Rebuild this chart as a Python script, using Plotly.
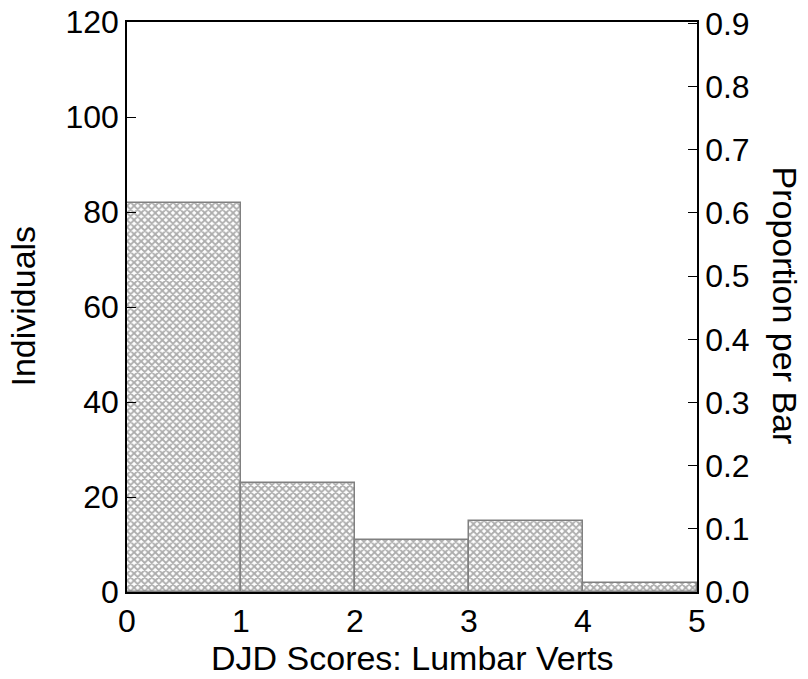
import plotly.graph_objects as go

bin_centers = [0.5, 1.5, 2.5, 3.5, 4.5]
counts = [82, 23, 11, 15, 2]
left_ticks = [0, 20, 40, 60, 80, 100, 120]
right_ticks = [0.0, 0.1, 0.2, 0.3, 0.4, 0.5, 0.6, 0.7, 0.8, 0.9]
x_ticks = [0, 1, 2, 3, 4, 5]

total = sum(counts)
FONT = "Liberation Sans, Arial, sans-serif"
FS = 32
TS = 34

fig = go.Figure()
fig.add_trace(go.Bar(
    x=bin_centers, y=counts, width=1,
    marker=dict(color="white",
                line=dict(color="#808080", width=1.5),
                pattern=dict(shape="x", fgcolor="#5a5a5a", bgcolor="white",
                             size=5, solidity=0.6)),
    showlegend=False, hoverinfo="skip",
))
fig.add_trace(go.Scatter(x=[0, 5], y=[0, 0], yaxis="y2", mode="lines",
                         line=dict(width=0), showlegend=False, hoverinfo="skip"))

fig.update_layout(
    width=800, height=671,
    margin=dict(l=119, r=111, t=14, b=87, autoexpand=False),
    paper_bgcolor="white", plot_bgcolor="white",
    font=dict(family=FONT, size=FS, color="black"),
    bargap=0,
    xaxis=dict(range=[0, 5], tickvals=x_ticks, ticks="", showgrid=False,
               zeroline=False, showline=True, mirror=True, linecolor="black",
               linewidth=1.5, layer="below traces", automargin=False,
               ticklabeloverflow="allow", tickfont=dict(size=FS)),
    yaxis=dict(range=[0, 120], tickvals=left_ticks, ticks="inside", ticklen=9,
               tickcolor="black", tickwidth=1, showgrid=False, zeroline=False,
               showline=True, linecolor="black", linewidth=1.5, automargin=False,
               ticklabeloverflow="allow", tickfont=dict(size=FS)),
    yaxis2=dict(range=[0, 120 / total], tickvals=right_ticks, tickformat=".1f",
                overlaying="y", side="right", ticks="inside", ticklen=9,
                tickcolor="black", showgrid=False, zeroline=False,
                showline=True, linecolor="black", linewidth=1.5, automargin=False,
                ticklabeloverflow="allow", tickfont=dict(size=FS)),
    annotations=[
        dict(text="DJD Scores: Lumbar Verts", xref="paper", yref="paper",
             x=0.5, y=-0.116, showarrow=False, font=dict(size=TS),
             xanchor="center", yanchor="middle"),
        dict(text="Individuals", xref="paper", yref="paper", x=-0.183, y=0.502,
             textangle=-90, showarrow=False, font=dict(size=TS),
             xanchor="center", yanchor="middle"),
        dict(text="Proportion per Bar", xref="paper", yref="paper", x=1.155, y=0.502,
             textangle=90, showarrow=False, font=dict(size=TS),
             xanchor="center", yanchor="middle"),
    ],
)

fig.write_html("out.html")
